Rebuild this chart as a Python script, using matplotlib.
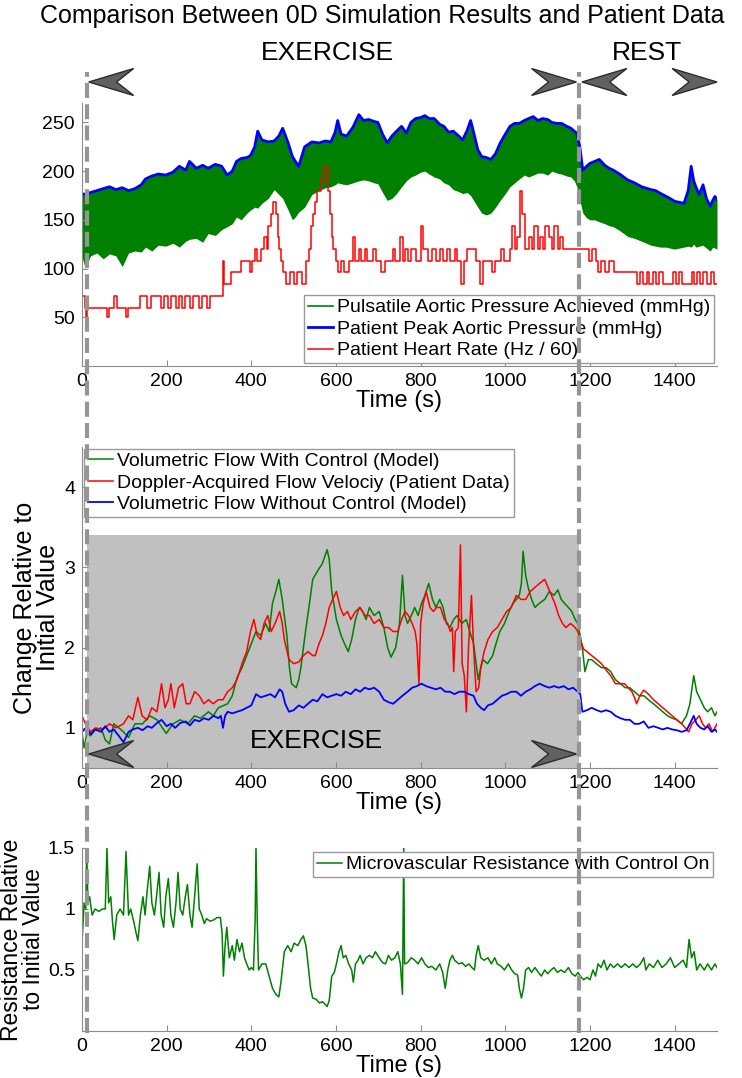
import matplotlib
matplotlib.use("Agg")
import matplotlib.pyplot as plt
from matplotlib.lines import Line2D
from matplotlib.patches import Polygon
from matplotlib.transforms import blended_transform_factory

plt.rcParams["font.family"] = ["Liberation Sans", "DejaVu Sans"]

# phase boundaries (s)
exercise_start = 12
exercise_end = 1173
rest_end = 1500

# top panel: pulsatile pressure band (lower / upper envelope) and heart rate
band_t = [0, 8, 20, 35, 50, 65, 80, 95, 110, 125, 140, 150, 165, 180, 198, 215, 230, 245, 254, 270,
          285, 298, 315, 330, 343, 355, 365, 376, 390, 398, 408, 415, 425, 440, 454, 465, 474, 487, 497, 504,
          512, 526, 543, 560, 575, 588, 598, 604, 612, 625, 640, 654, 665, 677, 690, 699, 710, 721, 732, 743,
          755, 766, 777, 788, 800, 810, 820, 832, 845, 855, 866, 877, 890, 899, 910, 918, 925, 935, 944, 955,
          966, 977, 988, 1000, 1011, 1022, 1033, 1045, 1055, 1066, 1077, 1088, 1100, 1110, 1122, 1133, 1145, 1155, 1163, 1169,
          1176, 1183, 1192, 1200, 1211, 1222, 1235, 1245, 1255, 1270, 1289, 1305, 1322, 1344, 1355, 1367, 1380, 1389, 1400, 1411,
          1422, 1432, 1439, 1445, 1450, 1458, 1467, 1475, 1484, 1490, 1495, 1500]
band_hi = [177, 176, 178, 180, 182, 184, 181, 183, 180, 182, 186, 192, 195, 197, 196, 199, 205, 201, 210, 203,
           206, 203, 207, 205, 196, 200, 210, 213, 214, 216, 225, 241, 232, 230, 231, 236, 244, 229, 215, 210,
           205, 225, 230, 229, 231, 230, 240, 252, 238, 236, 245, 258, 252, 253, 251, 250, 238, 229, 236, 241,
           246, 239, 250, 254, 255, 257, 254, 254, 248, 246, 240, 241, 236, 232, 242, 252, 240, 222, 215, 214,
           212, 218, 229, 238, 246, 249, 249, 252, 254, 256, 252, 254, 253, 250, 249, 249, 246, 244, 241, 239,
           225, 201, 205, 208, 210, 212, 206, 203, 201, 197, 191, 188, 184, 181, 180, 177, 174, 172, 169, 168,
           167, 180, 205, 190, 184, 176, 186, 172, 164, 170, 174, 171]
band_lo = [112, 100, 113, 116, 110, 115, 113, 102, 116, 118, 117, 122, 118, 124, 123, 126, 122, 128, 130, 131,
           127, 136, 134, 140, 143, 146, 153, 150, 157, 160, 163, 162, 167, 172, 181, 176, 172, 160, 150, 153,
           158, 163, 176, 180, 183, 184, 186, 188, 187, 186, 188, 190, 191, 190, 188, 187, 178, 170, 172, 177,
           184, 190, 194, 196, 199, 200, 197, 194, 192, 188, 186, 181, 179, 177, 178, 175, 170, 163, 157, 155,
           157, 163, 170, 177, 184, 188, 192, 196, 194, 196, 198, 198, 196, 200, 198, 197, 195, 194, 190, 184,
           170, 157, 152, 150, 150, 148, 146, 144, 143, 139, 133, 131, 128, 124, 123, 122, 122, 121, 120, 121,
           122, 123, 122, 125, 122, 123, 124, 121, 118, 122, 121, 120]

hr_t = [0, 6, 9, 13, 58, 63, 76, 82, 104, 109, 137, 153, 162, 187, 193, 204, 210, 223, 230, 237,
        244, 256, 262, 276, 283, 296, 303, 332, 336, 352, 375, 396, 402, 408, 414, 424, 430, 436, 440, 446,
        452, 458, 462, 466, 470, 476, 482, 492, 500, 508, 520, 530, 536, 540, 545, 550, 556, 564, 572, 580,
        586, 590, 594, 600, 605, 612, 618, 630, 640, 646, 654, 660, 668, 674, 688, 694, 706, 716, 734, 740,
        752, 758, 764, 770, 778, 790, 800, 806, 818, 826, 836, 846, 852, 862, 870, 880, 886, 896, 902, 910,
        930, 940, 948, 968, 976, 990, 996, 1010, 1016, 1022, 1028, 1034, 1040, 1046, 1056, 1062, 1068, 1076, 1082, 1088,
        1094, 1102, 1110, 1116, 1124, 1130, 1136, 1162, 1198, 1204, 1214, 1220, 1226, 1236, 1246, 1256, 1310, 1318, 1326, 1334,
        1340, 1348, 1356, 1364, 1372, 1396, 1402, 1410, 1418, 1440, 1446, 1452, 1460, 1468, 1476, 1486, 1492, 1500]
hr_v = [72, 60, 50, 60, 50, 60, 72, 60, 50, 60, 72, 60, 72, 60, 72, 60, 72, 60, 72, 60,
        72, 60, 72, 60, 72, 60, 72, 108, 84, 96, 108, 96, 108, 120, 108, 120, 132, 120, 144, 156,
        168, 156, 132, 120, 108, 96, 84, 96, 84, 96, 84, 108, 120, 144, 156, 168, 180, 192, 204, 180,
        156, 132, 120, 108, 96, 108, 96, 108, 132, 108, 120, 108, 120, 108, 120, 108, 96, 108, 120, 108,
        132, 108, 120, 108, 120, 108, 144, 120, 108, 120, 108, 120, 108, 120, 108, 120, 108, 84, 108, 120,
        108, 84, 108, 96, 108, 120, 108, 120, 144, 120, 132, 180, 156, 120, 132, 120, 144, 120, 132, 120,
        144, 132, 120, 144, 120, 132, 120, 120, 108, 120, 108, 96, 108, 96, 108, 96, 84, 96, 84, 96,
        84, 96, 84, 96, 84, 96, 84, 96, 84, 96, 84, 96, 84, 96, 84, 96, 84, 84]

# middle panel: flow relative to initial value
fc_t = [0, 5, 12, 20, 31, 45, 55, 65, 75, 87, 98, 110, 125, 143, 160, 177, 190, 199, 215, 232,
        250, 266, 280, 299, 310, 322, 335, 344, 355, 366, 378, 389, 400, 411, 422, 434, 442, 450, 458, 465,
        473, 484, 490, 495, 506, 512, 517, 528, 536, 545, 556, 568, 579, 584, 590, 601, 612, 620, 629, 637,
        646, 655, 663, 671, 679, 690, 702, 713, 722, 730, 741, 750, 757, 763, 769, 778, 786, 794, 802, 810,
        819, 828, 836, 845, 853, 861, 869, 878, 886, 897, 908, 916, 925, 931, 936, 942, 947, 958, 970, 978,
        987, 998, 1009, 1018, 1026, 1033, 1038, 1042, 1048, 1054, 1062, 1070, 1080, 1093, 1104, 1115, 1124, 1132, 1140, 1149,
        1157, 1165, 1171, 1177, 1183, 1188, 1196, 1204, 1215, 1227, 1238, 1249, 1260, 1272, 1283, 1294, 1305, 1316, 1327, 1338,
        1350, 1361, 1372, 1383, 1394, 1405, 1416, 1428, 1436, 1445, 1452, 1461, 1470, 1478, 1487, 1495, 1500]
fc_v = [0.95, 0.75, 0.95, 0.9, 0.97, 1.0, 0.85, 0.8, 1.05, 1.0, 0.95, 0.88, 1.05, 1.05, 1.15, 1.1, 1.0, 0.93, 1.05, 1.1,
        1.05, 1.15, 1.12, 1.2, 1.15, 1.25, 1.28, 1.3, 1.4, 1.62, 1.75, 1.9, 2.05, 2.2, 2.15, 2.3, 2.2, 2.55, 2.7, 2.85,
        2.6, 2.15, 1.75, 1.55, 1.5, 1.6, 1.75, 2.2, 2.5, 2.85, 2.95, 3.05, 3.22, 3.1, 2.7, 2.35, 2.15, 2.05, 1.95, 2.1,
        2.35, 2.5, 2.45, 2.35, 2.5, 2.4, 2.45, 2.25, 2.0, 1.88, 2.0, 2.3, 2.9, 2.4, 2.3, 2.4, 2.5, 2.4, 2.55, 2.65,
        2.8, 2.6, 2.5, 2.6, 2.5, 2.3, 2.25, 2.35, 2.4, 2.3, 2.35, 2.2, 2.05, 1.8, 1.6, 1.75, 1.85, 1.8, 1.9, 2.05,
        2.2, 2.3, 2.45, 2.55, 2.6, 2.65, 2.8, 3.2, 2.9, 2.75, 2.6, 2.5, 2.55, 2.6, 2.7, 2.65, 2.72, 2.6, 2.55, 2.5,
        2.45, 2.35, 2.3, 2.15, 1.95, 1.7, 1.85, 1.85, 1.8, 1.75, 1.75, 1.7, 1.6, 1.55, 1.5, 1.5, 1.45, 1.4, 1.4, 1.35,
        1.3, 1.25, 1.2, 1.15, 1.12, 1.1, 1.05, 1.15, 1.3, 1.65, 1.45, 1.35, 1.25, 1.2, 1.25, 1.15, 1.2]

dop_t = [0, 8, 20, 32, 45, 54, 65, 80, 98, 110, 120, 132, 142, 154, 165, 177, 188, 196, 204, 210,
         218, 228, 238, 246, 255, 266, 277, 288, 299, 310, 322, 333, 344, 355, 366, 378, 389, 398, 406, 414,
         422, 430, 439, 447, 456, 467, 473, 478, 489, 500, 512, 523, 534, 545, 551, 560, 568, 576, 584, 592,
         601, 610, 618, 627, 635, 646, 657, 668, 679, 690, 702, 713, 724, 735, 746, 755, 763, 771, 780, 787,
         791, 796, 800, 806, 813, 822, 830, 838, 847, 856, 864, 870, 875, 878, 882, 889, 894, 898, 903, 908,
         913, 920, 925, 931, 937, 942, 950, 959, 970, 981, 992, 1003, 1014, 1026, 1037, 1048, 1059, 1070, 1081, 1093,
         1101, 1109, 1117, 1126, 1135, 1143, 1154, 1165, 1171, 1177, 1185, 1193, 1204, 1216, 1227, 1238, 1249, 1260, 1271, 1282,
         1290, 1299, 1305, 1310, 1318, 1327, 1338, 1350, 1361, 1372, 1383, 1394, 1405, 1417, 1425, 1433, 1441, 1450, 1458, 1466,
         1473, 1481, 1490, 1500]
dop_v = [1.15, 1.05, 0.95, 1.0, 0.98, 1.0, 1.05, 1.0, 1.05, 1.15, 1.1, 1.38, 1.15, 1.1, 1.25, 1.2, 1.55, 1.25, 1.35, 1.55,
         1.25, 1.5, 1.55, 1.3, 1.3, 1.45, 1.4, 1.3, 1.35, 1.3, 1.35, 1.35, 1.45, 1.5, 1.6, 1.8, 1.95, 2.2, 2.35, 2.15,
         2.1, 2.3, 2.4, 2.2, 2.3, 2.45, 2.3, 2.1, 1.85, 1.8, 1.82, 1.9, 1.95, 1.9, 1.9, 2.05, 2.15, 2.3, 2.5, 2.6,
         2.7, 2.5, 2.4, 2.45, 2.35, 2.45, 2.5, 2.4, 2.4, 2.3, 2.35, 2.25, 2.25, 2.2, 2.2, 2.35, 2.45, 2.4, 2.3, 2.2,
         2.05, 1.55, 2.3, 2.55, 2.7, 2.5, 2.45, 2.5, 2.5, 2.35, 2.3, 2.2, 2.25, 1.7, 2.2, 2.25, 3.28, 1.8, 1.65, 1.2,
         2.0, 2.65, 2.0, 1.45, 1.5, 1.75, 1.95, 2.1, 2.2, 2.25, 2.35, 2.45, 2.5, 2.65, 2.6, 2.6, 2.7, 2.75, 2.8, 2.85,
         2.75, 2.65, 2.55, 2.4, 2.3, 2.25, 2.3, 2.25, 2.2, 2.1, 1.98, 1.95, 1.9, 1.85, 1.8, 1.72, 1.65, 1.55, 1.55, 1.55,
         1.5, 1.45, 1.38, 1.3, 1.4, 1.47, 1.42, 1.35, 1.3, 1.25, 1.2, 1.15, 1.1, 1.05, 1.0, 0.95, 1.05, 1.1, 1.15, 1.05,
         1.0, 1.05, 0.95, 1.05]

fnc_t = [0, 10, 20, 31, 45, 55, 65, 75, 87, 98, 110, 120, 132, 143, 155, 165, 177, 188, 200, 210,
         220, 232, 245, 255, 266, 277, 288, 299, 311, 322, 328, 333, 338, 344, 355, 366, 378, 389, 400, 411,
         422, 434, 445, 456, 467, 473, 480, 489, 500, 512, 523, 534, 545, 556, 568, 579, 590, 601, 612, 623,
         635, 646, 657, 668, 679, 690, 702, 713, 724, 735, 746, 757, 769, 780, 791, 802, 813, 824, 836, 847,
         858, 869, 880, 891, 903, 914, 925, 933, 942, 950, 959, 970, 981, 992, 1003, 1014, 1026, 1037, 1048, 1059,
         1070, 1081, 1093, 1104, 1115, 1126, 1138, 1149, 1160, 1171, 1177, 1182, 1193, 1204, 1216, 1227, 1238, 1249, 1260, 1272,
         1283, 1294, 1305, 1316, 1327, 1338, 1350, 1361, 1372, 1383, 1394, 1405, 1417, 1428, 1436, 1445, 1452, 1461, 1470, 1478,
         1487, 1495, 1500]
fnc_v = [0.95, 1.0, 0.92, 0.98, 0.95, 1.02, 0.95, 0.98, 0.9, 0.82, 0.95, 0.98, 1.0, 0.97, 1.02, 1.0, 1.06, 1.1, 1.02, 1.05,
         1.0, 1.06, 1.08, 1.03, 1.1, 1.08, 1.12, 1.1, 1.15, 1.12, 1.15, 1.0, 1.15, 1.2, 1.18, 1.2, 1.22, 1.25, 1.28, 1.42,
         1.38, 1.4, 1.42, 1.38, 1.48, 1.45, 1.3, 1.2, 1.22, 1.28, 1.25, 1.3, 1.35, 1.33, 1.42, 1.38, 1.4, 1.42, 1.4, 1.45,
         1.42, 1.48, 1.45, 1.5, 1.48, 1.5, 1.45, 1.35, 1.32, 1.3, 1.35, 1.4, 1.45, 1.5, 1.52, 1.55, 1.52, 1.5, 1.48, 1.5,
         1.45, 1.45, 1.42, 1.45, 1.45, 1.42, 1.4, 1.3, 1.25, 1.22, 1.28, 1.3, 1.35, 1.4, 1.42, 1.45, 1.45, 1.4, 1.45, 1.48,
         1.52, 1.55, 1.52, 1.5, 1.52, 1.5, 1.52, 1.48, 1.5, 1.45, 1.42, 1.2, 1.22, 1.25, 1.22, 1.2, 1.22, 1.2, 1.15, 1.12,
         1.1, 1.1, 1.05, 1.05, 1.08, 1.0, 1.02, 1.0, 0.98, 1.0, 0.98, 0.97, 0.95, 0.97, 1.05, 1.15, 1.05, 1.0, 0.98, 1.02,
         0.95, 0.98, 0.95]

# bottom panel: microvascular resistance
res_t = [0, 5, 9, 11, 14, 18, 24, 31, 40, 48, 55, 59, 63, 68, 72, 76, 82, 90, 98, 104,
         110, 115, 122, 128, 132, 138, 144, 149, 154, 160, 165, 171, 176, 182, 187, 193, 198, 204, 210, 216,
         222, 227, 232, 238, 244, 249, 255, 260, 266, 272, 277, 283, 289, 294, 303, 311, 319, 327, 331, 334,
         338, 342, 348, 355, 360, 366, 372, 378, 384, 389, 395, 400, 405, 409, 411, 414, 417, 425, 434, 442,
         450, 458, 465, 470, 478, 486, 494, 501, 510, 517, 523, 529, 534, 540, 545, 553, 561, 568, 574, 579,
         584, 590, 596, 601, 607, 612, 617, 623, 630, 637, 641, 646, 652, 657, 664, 671, 679, 686, 693, 702,
         710, 717, 724, 731, 739, 746, 752, 757, 760, 762, 769, 778, 786, 794, 802, 810, 818, 826, 836, 845,
         852, 858, 864, 869, 875, 880, 890, 898, 906, 914, 921, 927, 931, 936, 942, 950, 959, 967, 975, 981,
         990, 998, 1007, 1015, 1022, 1029, 1033, 1038, 1043, 1048, 1055, 1062, 1070, 1078, 1085, 1093, 1100, 1108, 1115, 1123,
         1131, 1140, 1149, 1157, 1165, 1172, 1177, 1185, 1193, 1200, 1207, 1213, 1219, 1226, 1233, 1240, 1248, 1256, 1265, 1274,
         1283, 1292, 1301, 1310, 1319, 1327, 1332, 1340, 1350, 1360, 1370, 1380, 1390, 1400, 1410, 1420, 1428, 1434, 1440, 1446,
         1452, 1460, 1470, 1478, 1487, 1495, 1500]
res_v = [0.72, 1.05, 1.0, 1.5, 1.05, 1.1, 0.95, 1.0, 0.98, 1.0, 1.0, 1.5, 1.05, 1.1, 0.9, 0.75, 0.95, 1.0, 0.95, 1.47,
         0.95, 1.0, 0.9, 0.8, 0.74, 0.95, 1.1, 0.95, 1.15, 1.35, 1.05, 0.95, 1.1, 1.3, 0.95, 0.85, 1.1, 1.25, 0.95, 0.85,
         1.05, 1.3, 1.0, 0.95, 1.1, 1.2, 0.95, 0.85, 1.1, 1.37, 1.0, 0.95, 0.88, 0.92, 0.9, 0.91, 0.93, 0.93, 0.8, 0.45,
         0.7, 0.85, 0.6, 0.7, 0.58, 0.75, 0.65, 0.72, 0.6, 0.55, 0.5, 0.52, 0.5, 0.9, 1.5, 0.9, 0.5, 0.55, 0.55, 0.45,
         0.35, 0.3, 0.28, 0.4, 0.65, 0.7, 0.65, 0.72, 0.7, 0.75, 0.78, 0.7, 0.55, 0.35, 0.27, 0.26, 0.23, 0.24, 0.22, 0.2,
         0.25, 0.45, 0.48, 0.55, 0.65, 0.7, 0.6, 0.62, 0.55, 0.5, 0.4, 0.55, 0.58, 0.62, 0.55, 0.6, 0.62, 0.6, 0.65, 0.6,
         0.56, 0.55, 0.62, 0.58, 0.6, 0.65, 0.55, 0.3, 1.5, 0.55, 0.56, 0.6, 0.58, 0.55, 0.6, 0.55, 0.52, 0.53, 0.5, 0.55,
         0.48, 0.35, 0.5, 0.58, 0.62, 0.58, 0.55, 0.56, 0.53, 0.55, 0.52, 0.5, 0.62, 0.7, 0.6, 0.58, 0.6, 0.55, 0.6, 0.55,
         0.53, 0.5, 0.55, 0.5, 0.47, 0.46, 0.35, 0.27, 0.35, 0.5, 0.52, 0.48, 0.52, 0.48, 0.45, 0.5, 0.47, 0.5, 0.52, 0.48,
         0.5, 0.48, 0.52, 0.47, 0.45, 0.48, 0.45, 0.42, 0.44, 0.42, 0.5, 0.45, 0.55, 0.52, 0.58, 0.5, 0.55, 0.52, 0.55, 0.52,
         0.55, 0.52, 0.55, 0.52, 0.55, 0.6, 0.5, 0.55, 0.52, 0.58, 0.52, 0.55, 0.6, 0.52, 0.55, 0.58, 0.52, 0.75, 0.6, 0.65,
         0.5, 0.55, 0.5, 0.55, 0.5, 0.55, 0.52]

x_ticks = [0, 200, 400, 600, 800, 1000, 1200, 1400]

GREEN = "#008000"
BLUE = "#0000ff"
RED = "#ff0000"
DASH_GREY = "#959595"


def style_axis(ax, yticks, ylim):
    ax.set_xlim(0, rest_end)
    ax.set_ylim(*ylim)
    ax.set_xticks(x_ticks)
    ax.set_yticks(yticks)
    ax.set_yticklabels([f"{v:g}" for v in yticks])
    for side in ("top", "right"):
        ax.spines[side].set_visible(False)
    for side in ("left", "bottom"):
        ax.spines[side].set_color("#8c8c8c")
        ax.spines[side].set_linewidth(0.8)
    ax.tick_params(direction="in", length=4, width=0.8, color="#8c8c8c",
                   labelsize=14, pad=5)
    ax.set_xlabel("Time (s)", fontsize=17, labelpad=0)


def draw_arrow(fig, trans, tip, direction, yc, length=106, half_h=0.0125):
    # direction -1 points left (body to the right of the tip), +1 points right
    back = tip - direction * length
    notch = tip - direction * length * 0.62
    verts = [(tip, yc), (back, yc + half_h), (notch, yc), (back, yc - half_h)]
    fig.add_artist(Polygon(verts, closed=True, transform=trans,
                           facecolor="#616161", edgecolor="#2b2b2b", lw=1.0, zorder=5))


def plot_data(figure_name):
    fig = plt.figure(figsize=(7.42, 10.78), dpi=100)

    ax1 = fig.add_axes([0.1105, 0.6605, 0.8558, 0.244])
    ax2 = fig.add_axes([0.1105, 0.2876, 0.8558, 0.2978])
    ax3 = fig.add_axes([0.1105, 0.0436, 0.8558, 0.1698])

    # top: pressure and heart rate
    ax1.fill_between(band_t, band_lo, band_hi, color=GREEN, lw=0)
    blue_line, = ax1.plot(band_t, band_hi, color=BLUE, lw=2.0)
    red_line, = ax1.step(hr_t, hr_v, where="post", color=RED, lw=1.1)
    style_axis(ax1, [50, 100, 150, 200, 250], (0, 270))
    ax1.legend([Line2D([], [], color=GREEN, lw=1.2), blue_line, red_line],
               ["Pulsatile Aortic Pressure Achieved (mmHg)",
                "Patient Peak Aortic Pressure (mmHg)",
                "Patient Heart Rate (Hz / 60)"],
               loc="lower right", bbox_to_anchor=(0.995, 0.01), fontsize=14,
               fancybox=False, edgecolor="#9a9a9a", framealpha=1,
               handlelength=1.3, handletextpad=0.2, borderpad=0.2,
               labelspacing=0.2, borderaxespad=0)

    # middle: flow
    ax2.axvspan(exercise_start, exercise_end, ymin=0, ymax=(3.4 - 0.5) / 4.0,
                color="#c0c0c0", lw=0, zorder=0)
    ax2.plot(fc_t, fc_v, color=GREEN, lw=1.1, label="Volumetric Flow With Control (Model)")
    ax2.plot(dop_t, dop_v, color=RED, lw=1.1, label="Doppler-Acquired Flow Velociy (Patient Data)")
    ax2.plot(fnc_t, fnc_v, color=BLUE, lw=1.3, label="Volumetric Flow Without Control (Model)")
    style_axis(ax2, [1, 2, 3, 4], (0.5, 4.5))
    ax2.set_ylabel("Change Relative to\nInitial Value", fontsize=18, labelpad=3,
                   linespacing=0.95)
    ax2.legend(loc="upper left", bbox_to_anchor=(0.003, 0.995), fontsize=14,
               fancybox=False, edgecolor="#9a9a9a", framealpha=1,
               handlelength=1.3, handletextpad=0.2, borderpad=0.2,
               labelspacing=0.2, borderaxespad=0)
    ax2.text(553, 0.84, "EXERCISE", fontsize=19, ha="center", va="center")

    # bottom: resistance
    ax3.plot(res_t, res_v, color=GREEN, lw=1.1,
             label="Microvascular Resistance with Control On")
    style_axis(ax3, [0.5, 1, 1.5], (0, 1.5))
    ax3.set_ylabel("Resistance Relative\nto Initial Value", fontsize=16.5, labelpad=2,
                   linespacing=0.95)
    ax3.legend(loc="upper right", bbox_to_anchor=(0.994, 0.978), fontsize=14,
               fancybox=False, edgecolor="#9a9a9a", framealpha=1,
               handlelength=1.3, handletextpad=0.2, borderpad=0.2,
               borderaxespad=0)

    # phase markers spanning the whole figure
    trans = blended_transform_factory(ax3.transData, fig.transFigure)
    for x in (exercise_start, exercise_end):
        fig.add_artist(Line2D([x, x], [0.0417, 0.933], transform=trans,
                              color=DASH_GREY, lw=3, dashes=(3.6, 1.5), zorder=4))

    top_y = 1 - 82 / 1078
    mid_y = 1 - 754 / 1078
    draw_arrow(fig, trans, exercise_start + 4, -1, top_y)
    draw_arrow(fig, trans, exercise_end - 5, 1, top_y)
    draw_arrow(fig, trans, exercise_end + 8, -1, top_y)
    draw_arrow(fig, trans, rest_end, 1, top_y)
    draw_arrow(fig, trans, exercise_start + 4, -1, mid_y)
    draw_arrow(fig, trans, exercise_end - 5, 1, mid_y)

    fig.text(0.515, 1 - 16 / 1078, "Comparison Between 0D Simulation Results and Patient Data",
             fontsize=18, ha="center", va="center")
    fig.text(581, 1 - 53 / 1078, "EXERCISE", fontsize=19, ha="center", va="center",
             transform=trans)
    fig.text(1335, 1 - 53 / 1078, "REST", fontsize=19, ha="center", va="center",
             transform=trans)

    fig.savefig(figure_name, dpi=100)


if __name__ == "__main__":
    plot_data("out.png")
